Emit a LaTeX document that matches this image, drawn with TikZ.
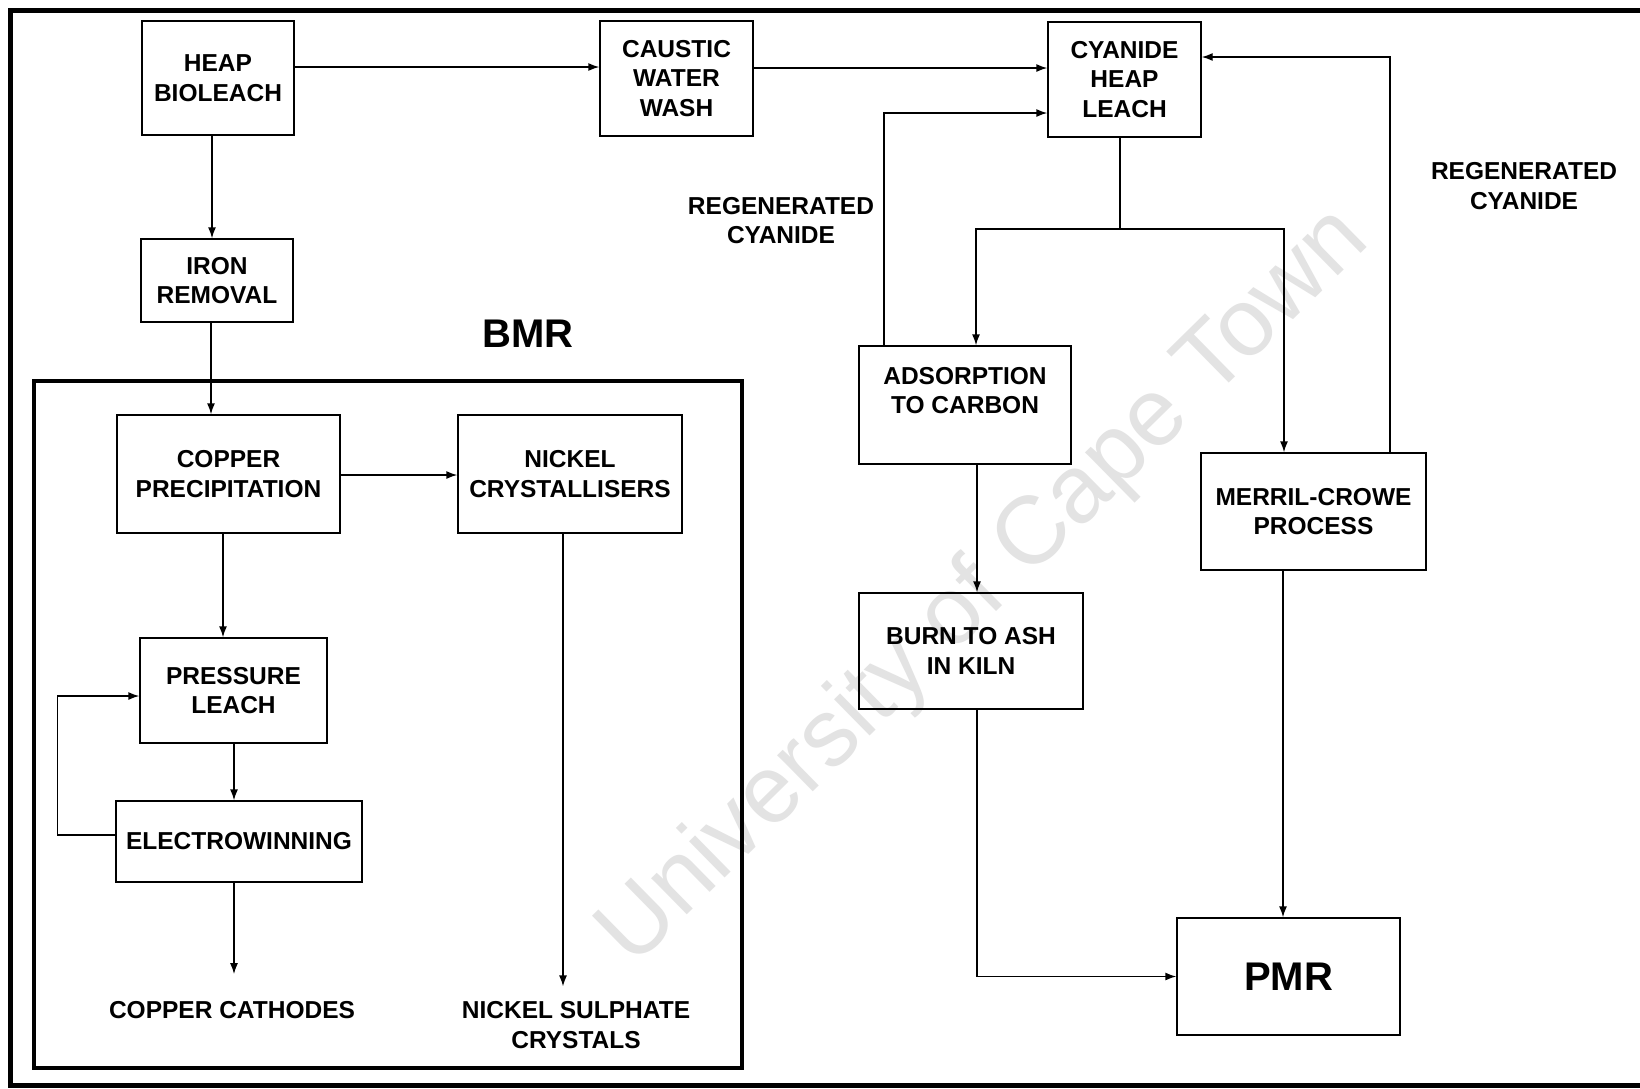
\documentclass[tikz,border=0pt]{standalone}
\usepackage{fontspec}
\setmainfont{Liberation Sans}
\usetikzlibrary{arrows.meta}
\tikzset{
  box/.style={draw, line width=1.4pt, rectangle, inner sep=0pt, align=center,
    font=\bfseries\fontsize{24.5}{29.5}\selectfont},
  lbl/.style={inner sep=3pt, align=center, font=\bfseries\fontsize{24.5}{29.5}\selectfont},
  big/.style={font=\bfseries\fontsize{40}{44}\selectfont},
  conn/.style={line width=1.4pt, -{Latex[length=11pt,width=8pt]}},
  plain/.style={line width=1.4pt},
}
\begin{document}
\begin{tikzpicture}[x=1pt,y=-1pt]
\useasboundingbox (0,0) rectangle (1640,1088);
\fill[white] (0,0) rectangle (1640,1088);
% watermark
\node[rotate=44.5, text=black!11, font=\fontsize{96}{96}\selectfont, inner sep=0pt] (wm) at (985,588) {University of Cape Town};
% outer frame (right side beyond the page)
\draw[line width=5pt] (1660,10) -- (10,10) -- (10,1085) -- (1660,1085);
% BMR frame
\node[draw, line width=3.5pt, minimum width=708pt, minimum height=687pt, inner sep=0pt] (bmrbox) at (388,724.5) {};
\node[big, inner sep=0pt] (bmr) at (528,334) {BMR};
% boxes
\node[box, minimum width=152pt, minimum height=114pt] (heap) at (218,78) {HEAP\\BIOLEACH};
\node[box, minimum width=153pt, minimum height=115pt] (caustic) at (676.5,78.5) {CAUSTIC\\WATER\\WASH};
\node[box, minimum width=153pt, minimum height=115pt] (cyanide) at (1124.5,79.5) {CYANIDE\\HEAP\\LEACH};
\node[box, minimum width=152pt, minimum height=83pt] (iron) at (217,280.5) {IRON\\REMOVAL};
\node[box, minimum width=223pt, minimum height=118pt] (copper) at (228.5,474) {COPPER\\PRECIPITATION};
\node[box, minimum width=224pt, minimum height=118pt] (nickel) at (570,474) {NICKEL\\CRYSTALLISERS};
\node[box, minimum width=187pt, minimum height=105pt] (pressure) at (233.5,690.5) {PRESSURE\\LEACH};
\node[box, minimum width=246pt, minimum height=81pt] (electro) at (239,841.5) {ELECTROWINNING};
\node[box, minimum width=212pt, minimum height=118pt] (adsorption) at (965,405) {ADSORPTION\\TO CARBON\\~};
\node[box, minimum width=224pt, minimum height=116pt] (burn) at (971,651) {BURN TO ASH\\IN KILN};
\node[box, minimum width=225pt, minimum height=117pt] (merril) at (1313.5,511.5) {MERRIL-CROWE\\PROCESS};
\node[box, big, minimum width=223pt, minimum height=117pt] (pmr) at (1288.5,976.5) {PMR};
% free labels
\node[lbl] (cathodes) at (232,1010) {COPPER CATHODES};
\node[lbl] (nsc) at (576,1025) {NICKEL SULPHATE\\CRYSTALS};
\node[lbl] (regl) at (781,220.5) {REGENERATED\\CYANIDE};
\node[lbl] (regr) at (1524,186) {REGENERATED\\CYANIDE};
% connectors
\draw[conn] (heap.east |- 0,67) -- (caustic.west |- 0,67);
\draw[conn] (caustic.east |- 0,68) -- (cyanide.west |- 0,68);
\draw[conn] (heap.south -| 212,0) -- (iron.north -| 212,0);
\draw[conn] (iron.south -| 211,0) -- (copper.north -| 211,0);
\draw[conn] (copper.east |- 0,475) -- (nickel.west |- 0,475);
\draw[conn] (copper.south -| 223,0) -- (pressure.north -| 223,0);
\draw[conn] (pressure.south -| 234,0) -- (electro.north -| 234,0);
\draw[conn] (electro.west |- 0,835) -- (57.5,835) |- (pressure.west |- 0,696);
\draw[conn, shorten >=24pt] (electro.south -| 234,0) -- (cathodes.north -| 234,0);
\draw[conn, shorten >=12pt] (nickel.south -| 563,0) -- (nsc.north -| 563,0);
\coordinate (split) at (1120,229);
\draw[plain] (cyanide.south -| split) -- (split);
\draw[conn] (split) -| (adsorption.north -| 976,0);
\draw[conn] (split) -| (merril.north -| 1284,0);
\draw[conn] (adsorption.north -| 884,0) |- (cyanide.west |- 0,113);
\draw[conn] (merril.north -| 1390,0) |- (cyanide.east |- 0,57);
\draw[conn] (adsorption.south -| 977,0) -- (burn.north -| 977,0);
\draw[conn] (burn.south -| 977,0) |- (pmr.west);
\draw[conn] (merril.south -| 1283,0) -- (pmr.north -| 1283,0);
\end{tikzpicture}
\end{document}
